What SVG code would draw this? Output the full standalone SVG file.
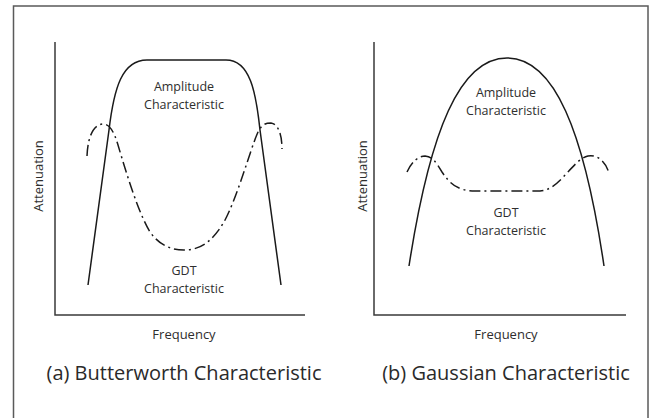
<svg xmlns="http://www.w3.org/2000/svg" width="652" height="418" viewBox="0 0 652 418">
  <style>
    .frame { fill: #ffffff; stroke: #5a5a5a; stroke-width: 1.5; }
    .axis { fill: none; stroke: #3a3a3a; stroke-width: 1.5; }
    .amp { fill: none; stroke: #1a1a1a; stroke-width: 1.5; stroke-linejoin: round; }
    .gdt { fill: none; stroke: #1a1a1a; stroke-width: 1.5; stroke-dasharray: 11 4 2 4; }
    text { font-family: "Open Sans", "Liberation Sans", sans-serif; fill: #2e2e2e; text-anchor: middle; }
    .lbl { font-size: 12.5px; }
    .ax { font-size: 13px; }
    .cap { font-size: 20px; fill: #2a2a2a; }
  </style>
  <rect class="frame" x="13.5" y="6" width="634.5" height="430"/>

  <g id="panel-a">
    <path class="axis" d="M55,42 L55,315 L305,315"/>
    <path id="amp-a" class="amp" d="M88,285 L109,130 C114,88 122,60 147,60 L226,60 C250,60 256,92 260,130 L281,285"/>
    <path id="gdt-a" class="gdt" d="M87,156 C88,132 96,124 103,124 C110,124 114,132 118,145 C126,172 138,212 150,232 C160,246 172,250 184,250 C200,250 212,242 224,222 C238,196 250,150 258,132 C262,124 266,123 271,123 C278,124 282,134 282,149"/>
    <text class="lbl" x="184" y="91">Amplitude</text>
    <text class="lbl" x="184" y="108.5">Characteristic</text>
    <text class="lbl" x="184" y="275">GDT</text>
    <text class="lbl" x="184" y="292.5">Characteristic</text>
    <text class="ax" x="184" y="339">Frequency</text>
    <text class="ax" transform="translate(43,176) rotate(-90)">Attenuation</text>
    <text class="cap" x="184" y="380">(a) Butterworth Characteristic</text>
  </g>

  <g id="panel-b">
    <path class="axis" d="M374,42 L374,315 L626,315"/>
    <path id="amp-b" class="amp" d="M409,266 C430,130 460,58 507,58 C554,58 584,130 604,266"/>
    <path id="gdt-b" class="gdt" d="M407,172 C412,161 419,156 425,156 C433,157 436,162 442,172 C450,184 458,191 475,191 L540,191 C560,190 572,160 588,156 C598,154 606,163 609,173"/>
    <text class="lbl" x="506" y="97">Amplitude</text>
    <text class="lbl" x="506" y="114.5">Characteristic</text>
    <text class="lbl" x="506" y="217">GDT</text>
    <text class="lbl" x="506" y="234.5">Characteristic</text>
    <text class="ax" x="506" y="339">Frequency</text>
    <text class="ax" transform="translate(367,176) rotate(-90)">Attenuation</text>
    <text class="cap" x="506" y="380">(b) Gaussian Characteristic</text>
  </g>
</svg>
